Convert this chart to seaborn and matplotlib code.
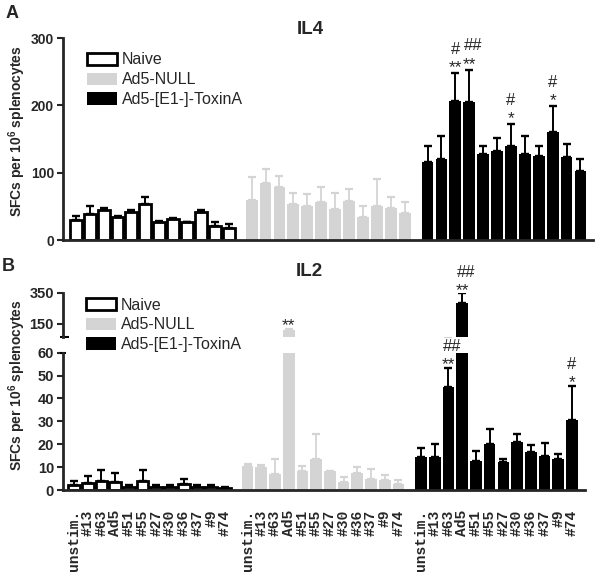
import numpy as np
import pandas as pd
import matplotlib
matplotlib.use('Agg')
import matplotlib.pyplot as plt
import seaborn as sns
from matplotlib.patches import Patch

# ---------------- data ----------------
stimuli = ['unstim.', '#13', '#63', 'Ad5', '#51', '#55', '#27', '#30', '#36', '#37', '#9', '#74']
groups = ['Naive', 'Ad5-NULL', 'Ad5-[E1-]-ToxinA']

il4_naive = [29, 39, 45, 34, 41, 54, 27, 31, 26, 41, 21, 18]
il4_naive_err = [7, 11, 3, 1, 3, 10, 1, 2, 1, 3, 5, 6]
il4_null = [60, 85, 79, 54, 51, 57, 46, 58, 34, 51, 47, 40]
il4_null_err = [33, 20, 16, 16, 18, 21, 24, 18, 16, 39, 17, 17]
il4_tox = [116, 121, 206, 205, 127, 132, 139, 128, 125, 160, 123, 102]
il4_tox_err = [23, 34, 42, 48, 12, 19, 33, 26, 14, 39, 20, 18]

il2_naive = [2.0, 3.0, 4.0, 3.5, 1.5, 4.0, 1.2, 1.2, 2.6, 1.2, 1.2, 0.8]
il2_naive_err = [1.8, 3.3, 4.8, 3.9, 0.7, 4.7, 0.8, 0.8, 2.4, 0.8, 0.8, 0.3]
il2_null = [10.4, 9.9, 7.0, 112, 8.3, 13.4, 8.2, 3.3, 7.3, 4.8, 4.4, 2.8]
il2_null_err = [1.0, 1.2, 6.4, 5, 2.3, 11.1, 0.2, 2.2, 2.6, 4.4, 2.2, 1.6]
il2_tox = [14.3, 14.3, 45.1, 285, 12.7, 20.1, 12.4, 20.8, 16.6, 14.8, 13.4, 30.7]
il2_tox_err = [4.2, 5.7, 8.3, 62, 4.3, 6.5, 1.1, 3.5, 2.9, 5.9, 2.3, 14.7]

# significance marks (group index, stimulus, star text, hash text)
il4_marks = [(2, '#63', '**', '#'), (2, 'Ad5', '**', '##'), (2, '#27', '*', '#'), (2, '#37', '*', '#')]
il2_marks = [(1, 'Ad5', '**', ''), (2, '#63', '**', '##'), (2, 'Ad5', '**', '##'), (2, '#74', '*', '#')]

# ---------------- style ----------------
sns.set_theme(style='ticks')
plt.rcParams['font.family'] = ['Liberation Sans', 'DejaVu Sans']
plt.rcParams['mathtext.fontset'] = 'custom'
plt.rcParams['mathtext.rm'] = 'Liberation Sans'
plt.rcParams['mathtext.bf'] = 'Liberation Sans:bold'

GRAY = '#d4d4d4'
GAP = 12.65
styles = {
    'Naive': dict(fc='white', ec='black', lw=2.0, ecol='black', elw=1.4),
    'Ad5-NULL': dict(fc=GRAY, ec=GRAY, lw=0, ecol=GRAY, elw=1.3),
    'Ad5-[E1-]-ToxinA': dict(fc='black', ec='black', lw=0, ecol='black', elw=1.4),
}


def positions(g):
    return [g * GAP + i for i in range(len(stimuli))]


def draw_bars(ax, values, errors):
    for g, name in enumerate(groups):
        x = positions(g)
        st = styles[name]
        df = pd.DataFrame({'x': x, 'y': values[g]})
        sns.barplot(data=df, x='x', y='y', native_scale=True, orient='x', width=0.85,
                    color=st['fc'], saturation=1, edgecolor=st['ec'], linewidth=st['lw'],
                    errorbar=None, ax=ax)
        ax.errorbar(x, values[g], yerr=[np.zeros(len(x)), errors[g]], fmt='none',
                    ecolor=st['ecol'], elinewidth=st['elw'], capsize=2.8, capthick=st['elw'] + 0.3,
                    zorder=3)
    ax.set_xlabel('')
    ax.set_ylabel('')


def style_axis(ax, size):
    for s in ['left', 'bottom']:
        ax.spines[s].set_linewidth(2.0)
    ax.tick_params(axis='y', width=1.5, length=4, labelsize=size, pad=2.5)
    for t in ax.get_yticklabels():
        t.set_fontweight('bold')


def add_marks(ax, marks, values, errors, star_off, hash_off):
    for g, stim, star, hsh in marks:
        i = stimuli.index(stim)
        x = positions(g)[i]
        top = values[g][i] + errors[g][i]
        if star:
            ax.annotate(star, xy=(x, top), xytext=(0, star_off), textcoords='offset points',
                        ha='center', va='baseline', fontsize=12.5, annotation_clip=False)
        if hsh:
            dx = 2.5 if len(hsh) == 2 else 0
            ax.annotate(hsh, xy=(x, top), xytext=(dx, hash_off), textcoords='offset points',
                        ha='center', va='baseline', fontsize=12, annotation_clip=False)


def legend(fig, x, y):
    handles = [Patch(facecolor='white', edgecolor='black', linewidth=2.0),
               Patch(facecolor=GRAY, edgecolor=GRAY, linewidth=0),
               Patch(facecolor='black', edgecolor='black', linewidth=0)]
    fig.legend(handles, groups, loc='upper left', bbox_to_anchor=(x, y), frameon=False,
               fontsize=11.5, handlelength=1.9, handleheight=0.8, handletextpad=0.3,
               labelspacing=0.3, borderpad=0, borderaxespad=0)


W, H = 601, 575
fig = plt.figure(figsize=(W / 100, H / 100), dpi=100)

# ---------------- Panel A: IL4 ----------------
axA = fig.add_axes([63 / W, 1 - 240 / H, 530 / W, 202 / H])
vals4 = [il4_naive, il4_null, il4_tox]
errs4 = [il4_naive_err, il4_null_err, il4_tox_err]
draw_bars(axA, vals4, errs4)
axA.set_xlim(-0.92, 37.2)
axA.set_ylim(0, 300)
axA.set_yticks([0, 100, 200, 300])
axA.set_xticks([])
sns.despine(ax=axA)
style_axis(axA, 10)
add_marks(axA, il4_marks, vals4, errs4, 0.5, 14)

# ---------------- Panel B: IL2 (broken axis) ----------------
axBl = fig.add_axes([63 / W, 1 - 490 / H, 522 / W, 137.3 / H])
axBu = fig.add_axes([63 / W, 1 - 337 / H, 522 / W, 44 / H])
vals2 = [il2_naive, il2_null, il2_tox]
errs2 = [il2_naive_err, il2_null_err, il2_tox_err]
for ax in (axBl, axBu):
    draw_bars(ax, vals2, errs2)
    ax.set_xlim(-0.80, 37.25)

axBl.set_ylim(0, 60)
axBl.set_yticks([0, 10, 20, 30, 40, 50, 60])
allpos = positions(0) + positions(1) + positions(2)
axBl.set_xticks(allpos, stimuli * 3, rotation=90, fontfamily='Liberation Mono',
                fontsize=10.5, fontweight='bold')
axBl.tick_params(axis='x', length=0, pad=14)
sns.despine(ax=axBl)
style_axis(axBl, 10.5)
axBl.plot([-0.006, 0.006], [1, 1], transform=axBl.transAxes, color='black', lw=1.5,
          clip_on=False, solid_capstyle='butt')

axBu.set_ylim(66, 350)
axBu.set_yticks([150, 350])
axBu.set_xticks([])
sns.despine(ax=axBu, bottom=True)
style_axis(axBu, 10.5)
axBu.plot([-0.005, 0.011], [0, 0], transform=axBu.transAxes, color='black', lw=1.5,
          clip_on=False, solid_capstyle='butt')

add_marks(axBl, [m for m in il2_marks if m[1] != 'Ad5'], vals2, errs2, -1, 12)
add_marks(axBu, [m for m in il2_marks if m[1] == 'Ad5'], vals2, errs2, -1, 12)

# ---------------- text ----------------
ylab = r'SFCs per 10$^{\mathbf{6}}$ splenocytes'
fig.text(17 / W, 1 - 131 / H, ylab, rotation=90, ha='center', va='center',
         fontsize=10, fontweight='bold')
fig.text(17 / W, 1 - 385 / H, ylab, rotation=90, ha='center', va='center',
         fontsize=10, fontweight='bold')
fig.text(310 / W, 1 - 29 / H, 'IL4', ha='center', va='center', fontsize=13.5, fontweight='bold')
fig.text(309 / W, 1 - 272 / H, 'IL2', ha='center', va='center', fontsize=13.5, fontweight='bold')
fig.text(12 / W, 1 - 14 / H, 'A', ha='center', va='center', fontsize=13, fontweight='bold')
fig.text(8 / W, 1 - 266 / H, 'B', ha='center', va='center', fontsize=13, fontweight='bold')

legend(fig, 87 / W, 1 - 52.5 / H)
legend(fig, 86 / W, 1 - 297.5 / H)

fig.savefig('out.png', dpi=100)
